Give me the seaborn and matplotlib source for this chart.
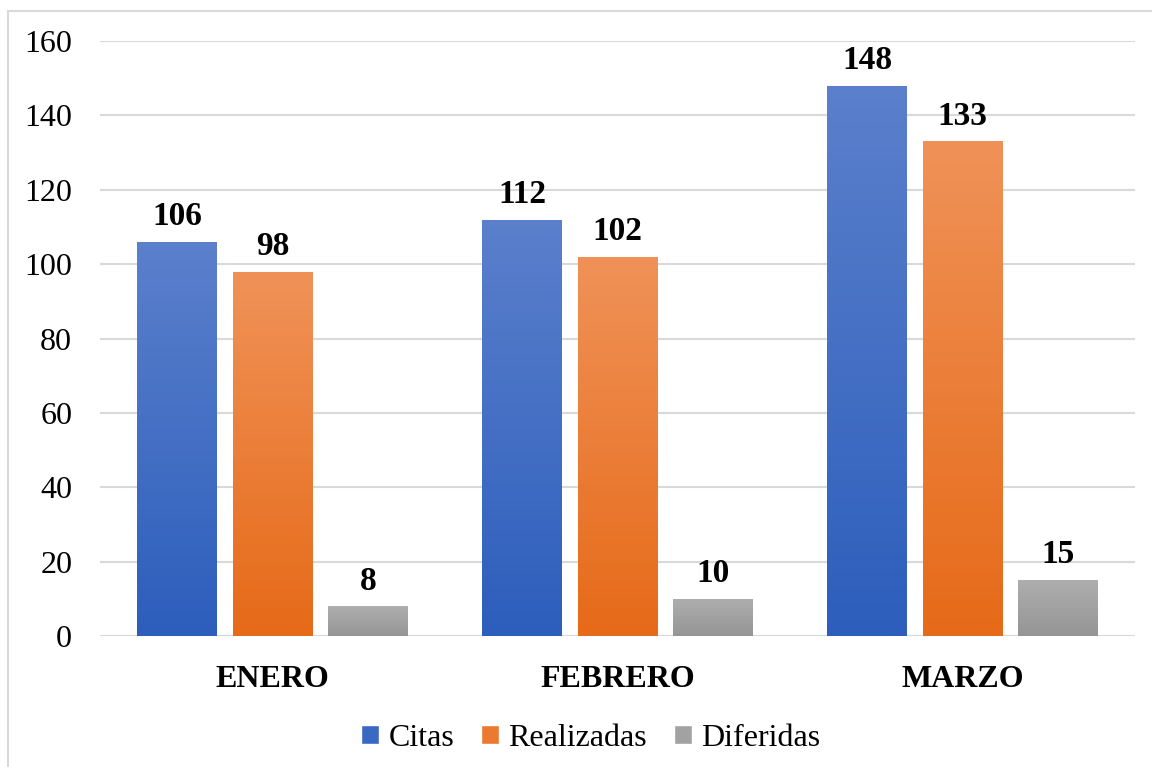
import numpy as np
import pandas as pd
import seaborn as sns
import matplotlib.pyplot as plt
from matplotlib.colors import LinearSegmentedColormap
from matplotlib.patches import Rectangle, Patch

meses = ['ENERO', 'FEBRERO', 'MARZO']
series = ['Citas', 'Realizadas', 'Diferidas']
citas = [106, 112, 148]
realizadas = [98, 102, 133]
diferidas = [8, 10, 15]

# colores (arriba, abajo) para el degradado
colores = {
    'Citas': ('#5B80CC', '#2D5EBC'),
    'Realizadas': ('#F09258', '#E66A18'),
    'Diferidas': ('#AEAEAE', '#959595'),
}
leyenda_col = {'Citas': '#3A69C4', 'Realizadas': '#EB7930', 'Diferidas': '#A2A2A2'}

df = pd.DataFrame({
    'mes': meses * 3,
    'serie': ['Citas'] * 3 + ['Realizadas'] * 3 + ['Diferidas'] * 3,
    'valor': citas + realizadas + diferidas,
})

sns.set_style('white')
plt.rcParams['font.family'] = ['Liberation Serif', 'DejaVu Serif']
plt.rcParams['text.color'] = 'black'
plt.rcParams['xtick.color'] = 'black'
plt.rcParams['ytick.color'] = 'black'

fig = plt.figure(figsize=(11.52, 7.67), dpi=100)
ax = fig.add_axes([0.0868, 0.1708, 0.8985, 0.7757])

paleta = {s: colores[s][1] for s in series}
sns.barplot(data=df, x='mes', y='valor', hue='serie', hue_order=series,
            order=meses, palette=paleta, width=0.83, gap=0.17,
            edgecolor='none', ax=ax, legend=False, zorder=3)

# degradado vertical sobre cada barra
for cont, s in zip(ax.containers, series):
    cmap = LinearSegmentedColormap.from_list(s, [colores[s][1], colores[s][0]])
    grad = np.linspace(0, 1, 256).reshape(-1, 1)
    for bar in cont:
        x0, y0 = bar.get_x(), bar.get_y()
        w, h = bar.get_width(), bar.get_height()
        im = ax.imshow(grad, cmap=cmap, aspect='auto', origin='lower',
                       extent=[x0, x0 + w, y0, y0 + h], zorder=3.5)
        im.set_clip_path(bar)
    ax.bar_label(cont, padding=7, fontsize=24, fontweight='bold', color='black')

ax.set_xlim(-0.5, 2.5)
ax.set_ylim(0, 160)
ax.set_yticks(range(0, 161, 20))
ax.yaxis.grid(True, color='#D9D9D9', linewidth=1.5, zorder=0)
ax.set_axisbelow(True)
for sp in ax.spines.values():
    sp.set_visible(False)
ax.axhline(0, color='#D9D9D9', linewidth=1.5, zorder=2)
ax.set_xlabel('')
ax.set_ylabel('')
ax.tick_params(axis='y', length=0, pad=20, labelsize=23)
ax.tick_params(axis='x', length=0, pad=21, labelsize=23)
for t in ax.get_xticklabels():
    t.set_fontweight('bold')

handles = [Patch(facecolor=leyenda_col[s], label=s) for s in series]
fig.legend(handles=handles, loc='center', bbox_to_anchor=(0.513, 0.037),
           ncol=3, frameon=False, fontsize=23, handlelength=0.55,
           handleheight=0.55, handletextpad=0.3, columnspacing=0.85)

# borde exterior
fig.patches.append(Rectangle((8 / 1152, -0.05), 1.1, 1 - 11 / 767 + 0.05,
                             transform=fig.transFigure, fill=False,
                             edgecolor='#D9D9D9', linewidth=1.5))

fig.savefig('out.png', dpi=100)
